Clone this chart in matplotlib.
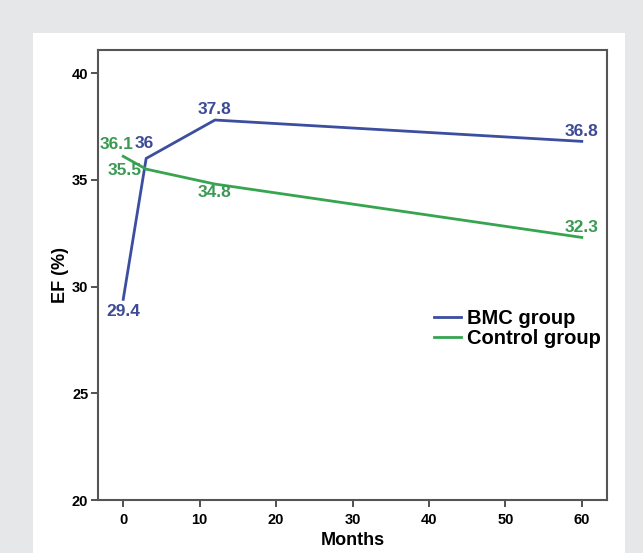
import matplotlib.pyplot as plt
from matplotlib.patches import Rectangle

# data
months = [0, 3, 12, 60]
bmc_ef = [29.4, 36, 37.8, 36.8]
control_ef = [36.1, 35.5, 34.8, 32.3]
bmc_labels = ['29.4', '36', '37.8', '36.8']
control_labels = ['36.1', '35.5', '34.8', '32.3']

blue = '#3b4ea0'
green = '#37a550'
blue_txt = '#3d4a96'
green_txt = '#3a9a52'

plt.rcParams['font.family'] = ['Liberation Sans', 'DejaVu Sans']

fig = plt.figure(figsize=(6.43, 5.53), dpi=100, facecolor='#e6e7e8')

# white panel behind the chart
fig.patches.append(Rectangle((33 / 643, 0), (625 - 33) / 643, 1 - 33 / 553,
                             transform=fig.transFigure, facecolor='white',
                             edgecolor='none', zorder=-1))

ax = fig.add_axes([98 / 643, 1 - 500 / 553, (607 - 98) / 643, (500 - 50) / 553])

ax.plot(months, bmc_ef, color=blue, lw=2, label='BMC group')
ax.plot(months, control_ef, color=green, lw=2, label='Control group')

# data labels: (dx points, dy points, ha, va)
bmc_offsets = [(0, -3, 'center', 'top'), (-1, 5, 'center', 'bottom'),
               (0, 2, 'center', 'bottom'), (0, 2, 'center', 'bottom')]
control_offsets = [(-5, 3, 'center', 'bottom'), (-3, -1, 'right', 'center'),
                   (0, -1, 'center', 'top'), (0, 2, 'center', 'bottom')]

for x, y, lab, (dx, dy, ha, va) in zip(months, bmc_ef, bmc_labels, bmc_offsets):
    ax.annotate(lab, (x, y), xytext=(dx, dy), textcoords='offset points',
                ha=ha, va=va, color=blue_txt, fontsize=12.5, fontweight='bold')
for x, y, lab, (dx, dy, ha, va) in zip(months, control_ef, control_labels, control_offsets):
    ax.annotate(lab, (x, y), xytext=(dx, dy), textcoords='offset points',
                ha=ha, va=va, color=green_txt, fontsize=12.5, fontweight='bold')

ax.set_xlim(-3.3, 63.3)
ax.set_ylim(20, 41.08)
ax.set_xticks([0, 10, 20, 30, 40, 50, 60])
ax.set_yticks([20, 25, 30, 35, 40])

ax.set_xlabel('Months', fontsize=13, fontweight='bold', labelpad=4)
ax.set_ylabel('EF (%)', fontsize=13, fontweight='bold', labelpad=2)

ax.tick_params(direction='out', length=5, width=1.2, color='#333333',
               labelsize=10.5, pad=2)
ax.tick_params(axis='x', pad=4)
for lab in ax.get_xticklabels() + ax.get_yticklabels():
    lab.set_fontweight('bold')

for sp in ax.spines.values():
    sp.set_color('#555555')
    sp.set_linewidth(1.5)

ax.legend(loc='upper left', bbox_to_anchor=(0.645, 0.443), frameon=False,
          prop={'size': 14.5, 'weight': 'bold'}, handlelength=1.3,
          handletextpad=0.3, labelspacing=0.05, borderaxespad=0)

fig.savefig('out.png', dpi=100, facecolor=fig.get_facecolor())
